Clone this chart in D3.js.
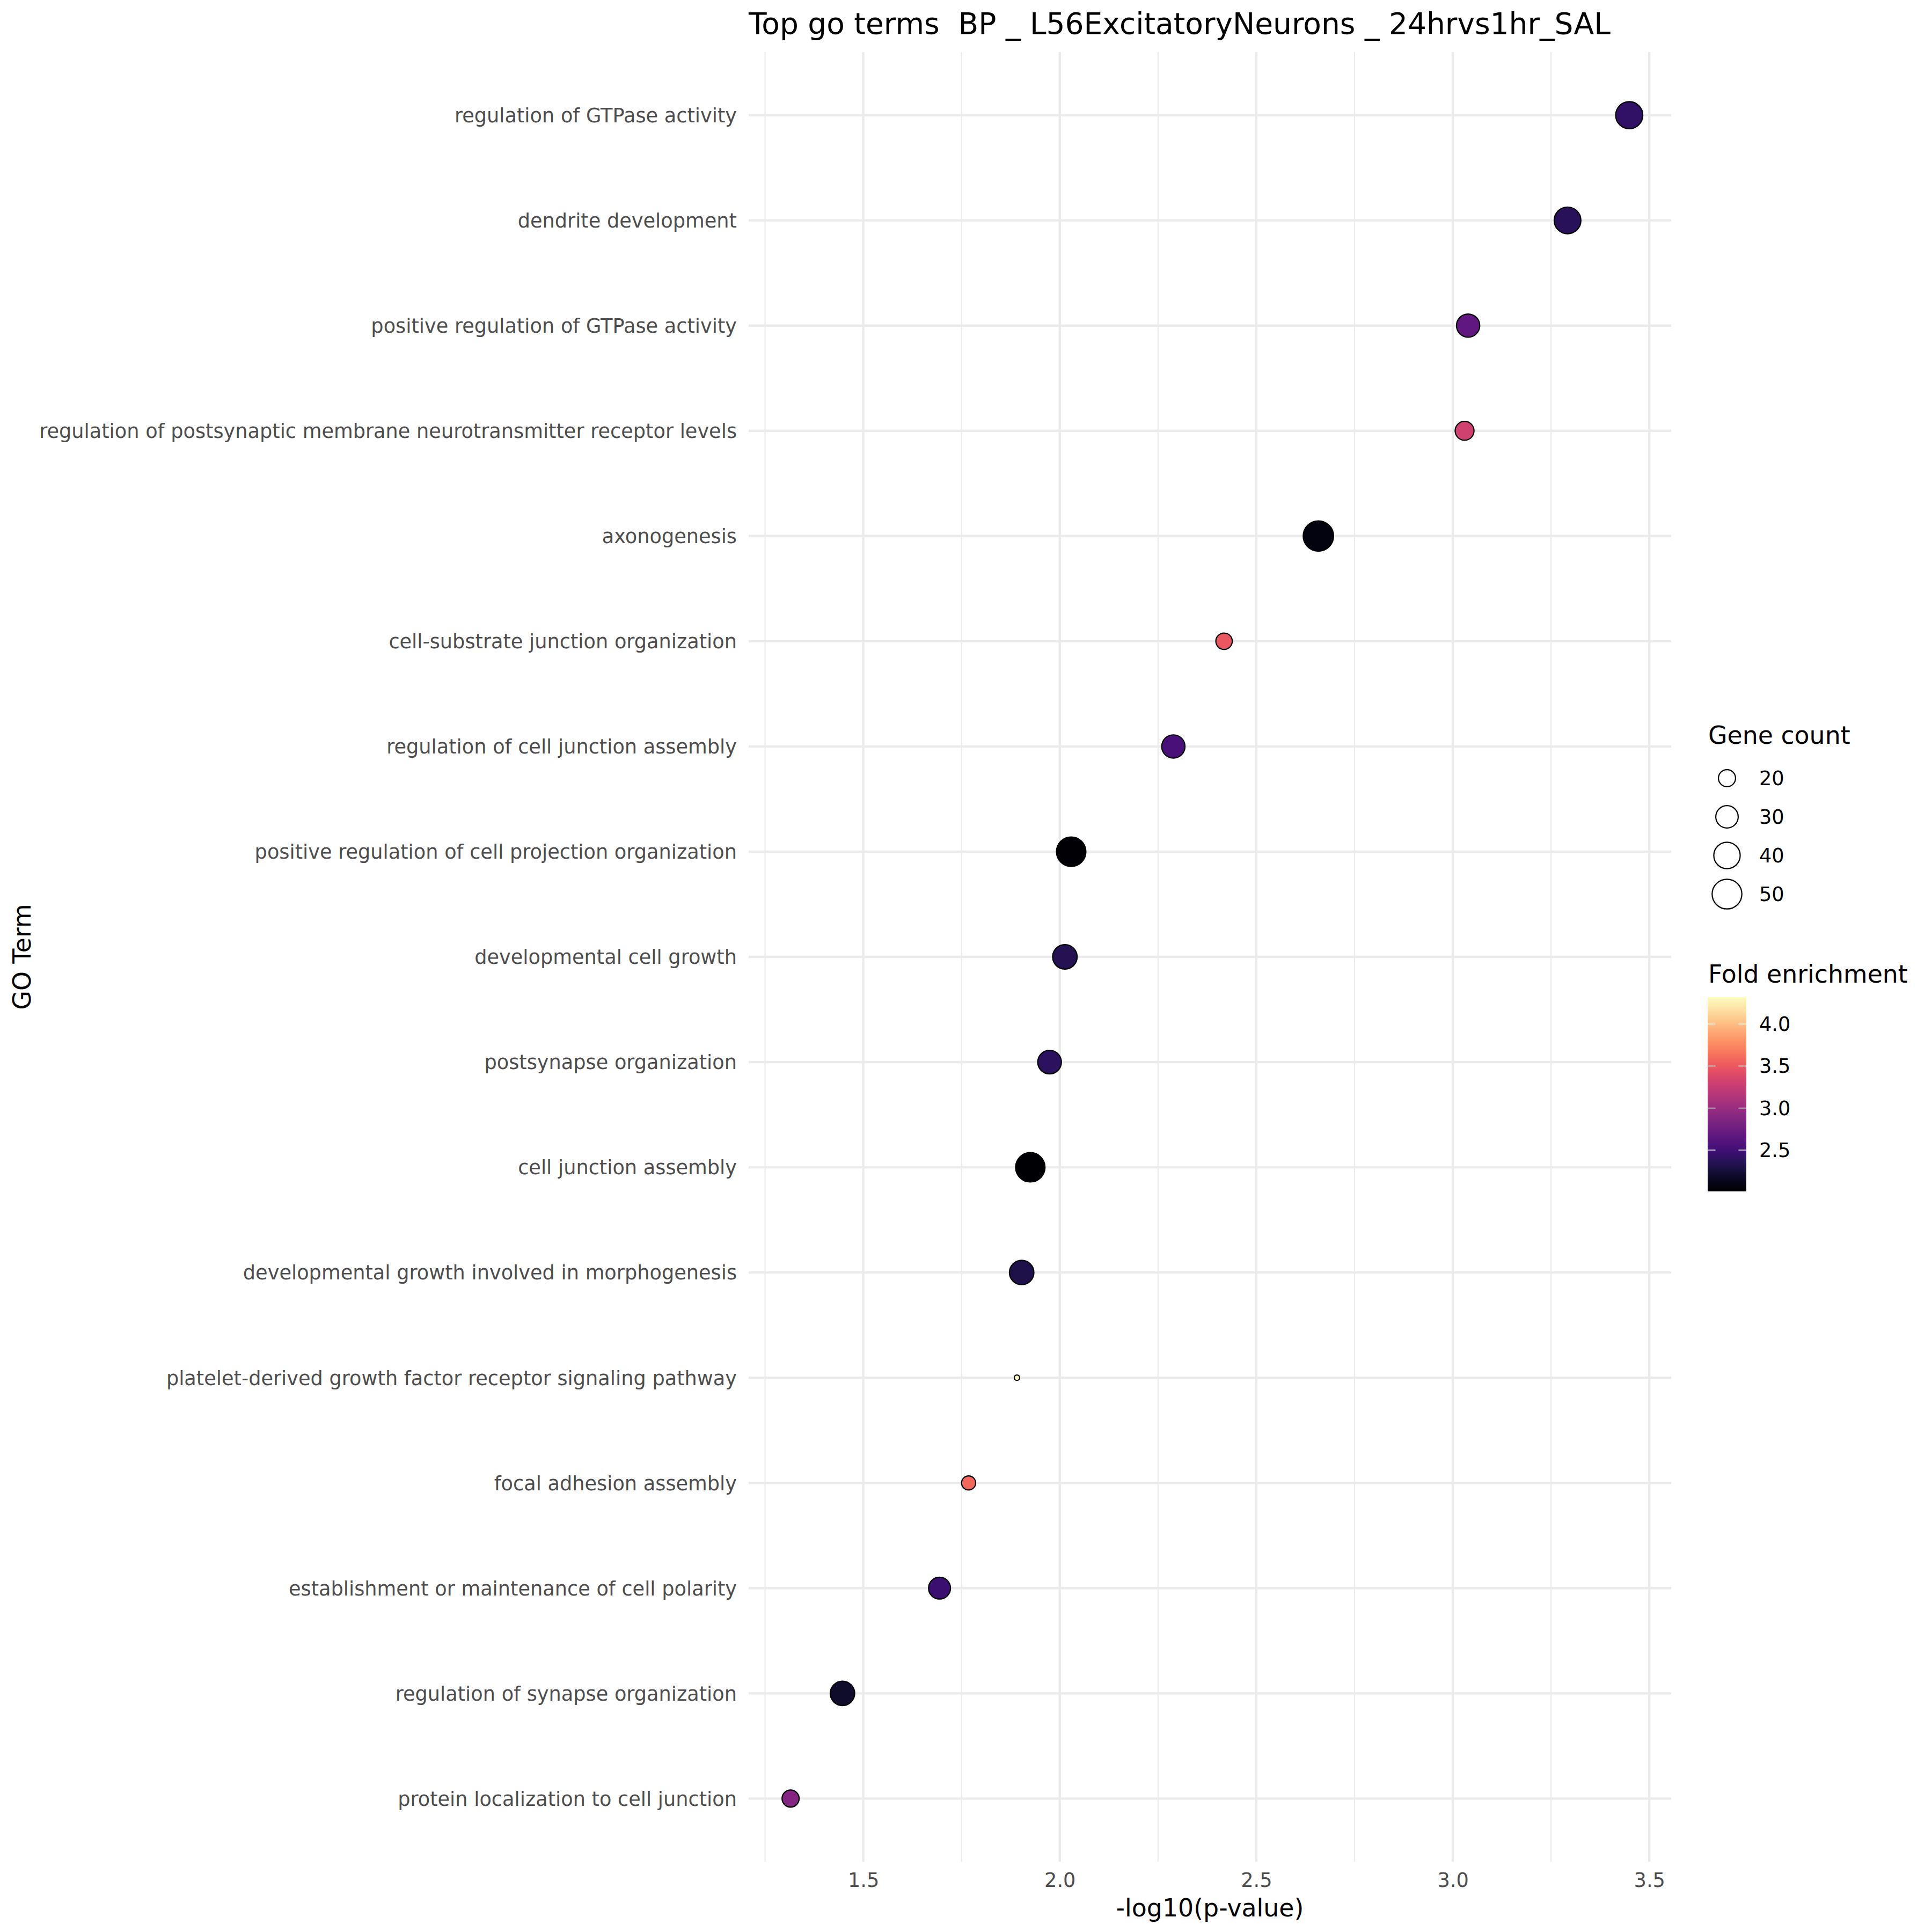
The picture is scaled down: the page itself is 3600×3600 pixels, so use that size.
<!DOCTYPE html>
<html>
<head>
<meta charset="utf-8">
<script src="https://cdn.jsdelivr.net/npm/d3@7"></script>
<style>
  html, body { margin: 0; padding: 0; background: #ffffff; }
  text { font-family: "DejaVu Sans", sans-serif; }
</style>
</head>
<body>
<script>
// ---------------- DATA ----------------
const terms = [
  "regulation of GTPase activity",
  "dendrite development",
  "positive regulation of GTPase activity",
  "regulation of postsynaptic membrane neurotransmitter receptor levels",
  "axonogenesis",
  "cell-substrate junction organization",
  "regulation of cell junction assembly",
  "positive regulation of cell projection organization",
  "developmental cell growth",
  "postsynapse organization",
  "cell junction assembly",
  "developmental growth involved in morphogenesis",
  "platelet-derived growth factor receptor signaling pathway",
  "focal adhesion assembly",
  "establishment or maintenance of cell polarity",
  "regulation of synapse organization",
  "protein localization to cell junction"
];
const negLog10P = [3.449, 3.292, 3.039, 3.030, 2.658, 2.418, 2.289, 2.029, 2.013, 1.974, 1.925, 1.903, 1.891, 1.768, 1.694, 1.447, 1.315];
const geneCount = [42, 41, 32, 23, 52, 19, 32, 49, 35, 33, 49, 35, 11, 16, 29, 35, 20];
const foldEnrichment = [2.42, 2.37, 2.68, 3.31, 2.08, 3.49, 2.55, 2.02, 2.35, 2.39, 2.008, 2.31, 4.32, 3.58, 2.47, 2.19, 2.89];
const xTicks = [1.5, 2.0, 2.5, 3.0, 3.5];
const xMinorTicks = [1.25, 1.75, 2.25, 2.75, 3.25];
const sizeBreaks = [20, 30, 40, 50];
const colorBreaks = [2.5, 3.0, 3.5, 4.0];
const titleText = "Top go terms  BP _ L56ExcitatoryNeurons _ 24hrvs1hr_SAL";
const xTitle = "-log10(p-value)";
const yTitle = "GO Term";
const sizeTitle = "Gene count";
const colorTitle = "Fold enrichment";

const data = terms.map((t, i) => ({ term: t, x: negLog10P[i], count: geneCount[i], fe: foldEnrichment[i] }));

// ---------------- LAYOUT ----------------
const W = 3600, H = 3600;
const panel = { left: 1395, right: 3114, top: 97, bottom: 3469 };
const axisFont = 36.7, titleFont = 45.8, mainFont = 55;

const svg = d3.select("body").append("svg")
  .attr("width", W).attr("height", H)
  .attr("viewBox", `0 0 ${W} ${H}`);
svg.append("rect").attr("width", W).attr("height", H).attr("fill", "#ffffff");

// scales
const xExt = d3.extent(negLog10P);
const xPad = (xExt[1] - xExt[0]) * 0.05;
const x = d3.scaleLinear().domain([xExt[0] - xPad, xExt[1] + xPad]).range([panel.left, panel.right]);
const y = d3.scalePoint().domain(terms).range([panel.top, panel.bottom]).padding(0.6);

const cExt = d3.extent(foldEnrichment);
const color = d3.scaleSequential(d3.interpolateMagma).domain(cExt);

const sExt = d3.extent(geneCount);
const rLin = d3.scaleLinear().domain([0, 1]).range([5, 28.3]);
const r = v => rLin(Math.sqrt((v - sExt[0]) / (sExt[1] - sExt[0])));

// grid
const grid = svg.append("g");
grid.selectAll("line.minor").data(xMinorTicks).join("line")
  .attr("x1", d => x(d)).attr("x2", d => x(d))
  .attr("y1", panel.top).attr("y2", panel.bottom)
  .attr("stroke", "#EBEBEB").attr("stroke-width", 2.2);
grid.selectAll("line.majx").data(xTicks).join("line")
  .attr("x1", d => x(d)).attr("x2", d => x(d))
  .attr("y1", panel.top).attr("y2", panel.bottom)
  .attr("stroke", "#EBEBEB").attr("stroke-width", 4.4);
grid.selectAll("line.majy").data(terms).join("line")
  .attr("x1", panel.left).attr("x2", panel.right)
  .attr("y1", d => y(d)).attr("y2", d => y(d))
  .attr("stroke", "#EBEBEB").attr("stroke-width", 4.4);

// x axis
const xAxis = d3.axisBottom(x).tickValues(xTicks).tickFormat(d3.format(".1f")).tickSize(0).tickPadding(0);
const gx = svg.append("g").attr("transform", `translate(0,${panel.bottom})`).call(xAxis);
gx.select(".domain").remove();
gx.selectAll("text")
  .attr("y", 47).attr("dy", 0)
  .attr("font-size", axisFont).attr("fill", "#4D4D4D")
  .attr("font-family", "DejaVu Sans");

// y axis
const yAxis = d3.axisLeft(y).tickSize(0).tickPadding(0);
const gy = svg.append("g").attr("transform", `translate(${panel.left},0)`).call(yAxis);
gy.select(".domain").remove();
gy.selectAll("text")
  .attr("x", -22).attr("dy", "0.35em")
  .attr("font-size", axisFont).attr("fill", "#4D4D4D")
  .attr("font-family", "DejaVu Sans");

// points
svg.append("g").selectAll("circle").data(data).join("circle")
  .attr("cx", d => x(d.x)).attr("cy", d => y(d.term))
  .attr("r", d => r(d.count))
  .attr("fill", d => color(d.fe))
  .attr("stroke", "#000000").attr("stroke-width", 2.2);

// titles
svg.append("text").attr("x", panel.left).attr("y", 63)
  .attr("font-size", mainFont).attr("fill", "#000000")
  .style("white-space", "pre").attr("xml:space", "preserve")
  .text(titleText);
svg.append("text").attr("x", (panel.left + panel.right) / 2).attr("y", 3571)
  .attr("text-anchor", "middle").attr("font-size", titleFont).attr("fill", "#000000")
  .text(xTitle);
svg.append("text")
  .attr("transform", `translate(57,${(panel.top + panel.bottom) / 2}) rotate(-90)`)
  .attr("text-anchor", "middle").attr("font-size", titleFont).attr("fill", "#000000")
  .text(yTitle);

// size legend
const legX = 3183;
svg.append("text").attr("x", legX).attr("y", 1386)
  .attr("font-size", titleFont).attr("fill", "#000000").text(sizeTitle);
const sizeYs = d3.scalePoint().domain(sizeBreaks).range([1450, 1666]);
const sl = svg.append("g");
sl.selectAll("circle").data(sizeBreaks).join("circle")
  .attr("cx", 3218).attr("cy", d => sizeYs(d)).attr("r", d => r(d))
  .attr("fill", "none").attr("stroke", "#000000").attr("stroke-width", 2.2);
sl.selectAll("text").data(sizeBreaks).join("text")
  .attr("x", 3278).attr("y", d => sizeYs(d)).attr("dy", "0.35em")
  .attr("font-size", axisFont).attr("fill", "#000000").text(d => d);

// color legend
svg.append("text").attr("x", legX).attr("y", 1831)
  .attr("font-size", titleFont).attr("fill", "#000000").text(colorTitle);
const cb = { x: 3182, w: 72, top: 1858, bottom: 2220 };
const cy = d3.scaleLinear().domain(cExt).range([cb.bottom, cb.top]);
const defs = svg.append("defs");
const grad = defs.append("linearGradient").attr("id", "cbgrad")
  .attr("x1", 0).attr("y1", 1).attr("x2", 0).attr("y2", 0);
d3.range(0, 1.0001, 0.05).forEach(t => {
  grad.append("stop").attr("offset", t).attr("stop-color", color(cExt[0] + t * (cExt[1] - cExt[0])));
});
svg.append("rect").attr("x", cb.x).attr("y", cb.top).attr("width", cb.w).attr("height", cb.bottom - cb.top)
  .attr("fill", "url(#cbgrad)");
const ct = svg.append("g");
ct.selectAll("line.l").data(colorBreaks).join("line")
  .attr("x1", cb.x).attr("x2", cb.x + 14.5).attr("y1", d => cy(d)).attr("y2", d => cy(d))
  .attr("stroke", "#ffffff").attr("stroke-width", 1.5);
ct.selectAll("line.r").data(colorBreaks).join("line")
  .attr("x1", cb.x + cb.w - 14.5).attr("x2", cb.x + cb.w).attr("y1", d => cy(d)).attr("y2", d => cy(d))
  .attr("stroke", "#ffffff").attr("stroke-width", 1.5);
ct.selectAll("text").data(colorBreaks).join("text")
  .attr("x", 3278).attr("y", d => cy(d)).attr("dy", "0.35em")
  .attr("font-size", axisFont).attr("fill", "#000000").text(d => d3.format(".1f")(d));
</script>
</body>
</html>
